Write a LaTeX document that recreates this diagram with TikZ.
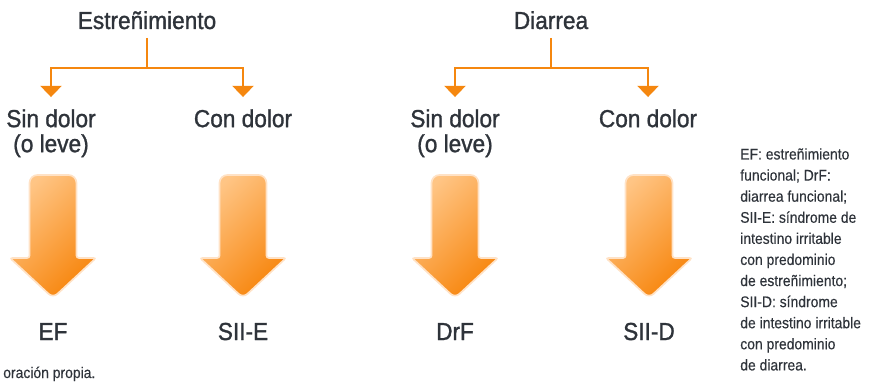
\documentclass[tikz,border=0pt]{standalone}
\usepackage{fontspec}
\setmainfont{Liberation Sans}[FakeStretch=0.92, FakeBold=1.2]
\newfontfamily\notafont{Liberation Sans}[FakeStretch=0.9, FakeBold=0.3]
\usepackage{tikz}
\usetikzlibrary{arrows.meta}
\definecolor{naranja}{HTML}{F5870F}
\definecolor{texto}{HTML}{2E333A}
\definecolor{claro}{HTML}{FFC585}
\definecolor{oscuro}{HTML}{F7850C}
\definecolor{halo}{HTML}{FFE2C6}

\begin{document}
\begin{tikzpicture}[x = 0.025cm, y = -0.025cm,
    titulo/.style = {text = texto, inner sep = 0pt, font = \fontsize{17.5}{17.8}\selectfont, align = center},
    rama/.style = {draw = naranja, line width = 1.6pt},
    flecha/.style = {rama, -{Triangle[width = 15pt, length = 8pt]}, shorten > = 8.5pt},
    grande/.style = {top color = claro, bottom color = oscuro, shading angle = 45, draw = halo, line width = 1.2pt},
    nota/.style = {text = texto, inner sep = 0pt, font = \notafont\fontsize{11}{15}\selectfont, align = left}]
  \useasboundingbox (0, 0) rectangle (879, 385);

  % encabezados
  \node [titulo, anchor = base] (est) at (147, 29){Estreñimiento};
  \node [titulo, anchor = base] (dia) at (551, 29){Diarrea};
  \coordinate (est-j) at (147, 68);
  \coordinate (dia-j) at (551, 68);

  \node [titulo, anchor = north] (est-sin) at (51, 109){Sin dolor\\(o leve)};
  \node [titulo, anchor = north] (est-con) at (243, 109){Con dolor};
  \node [titulo, anchor = north] (dia-sin) at (455, 109){Sin dolor\\(o leve)};
  \node [titulo, anchor = north] (dia-con) at (648, 109){Con dolor};

  \draw [rama, shorten <= 6pt] (est) -- (est-j);
  \draw [flecha] (est-j) -| (est-sin);
  \draw [flecha] (est-j) -| (est-con);
  \draw [rama, shorten <= 6pt] (dia) -- (dia-j);
  \draw [flecha] (dia-j) -| (dia-sin);
  \draw [flecha] (dia-j) -| (dia-con);

  % flechas grandes
  \foreach \cx in {53, 243, 455, 649}
    \shadedraw [grande] (\cx - 23.5, 258) [rounded corners = 2mm] -- (\cx - 23.5, 175)
      -- (\cx + 23.5, 175) [rounded corners = 0.6mm] -- (\cx + 23.5, 258) -- (\cx + 43, 258)
      [rounded corners = 1.5mm] -- (\cx, 298) [rounded corners = 0.6mm] -- (\cx - 43, 258) -- cycle;

  \node [titulo, anchor = base] (ef) at (53, 340){EF};
  \node [titulo, anchor = base] (siie) at (243, 340){SII-E};
  \node [titulo, anchor = base] (drf) at (455, 340){DrF};
  \node [titulo, anchor = base] (siid) at (649, 340){SII-D};

  % notas
  \node [nota, anchor = base west] (fuente) at (3, 378){oración propia.};
  \node [nota, anchor = north west] (leyenda) at (740, 148){EF: estreñimiento\\funcional; DrF:\\diarrea funcional;\\SII-E: síndrome de\\intestino irritable\\con predominio\\de estreñimiento;\\SII-D: síndrome\\de intestino irritable\\con predominio\\de diarrea.};
\end{tikzpicture}
\end{document}
